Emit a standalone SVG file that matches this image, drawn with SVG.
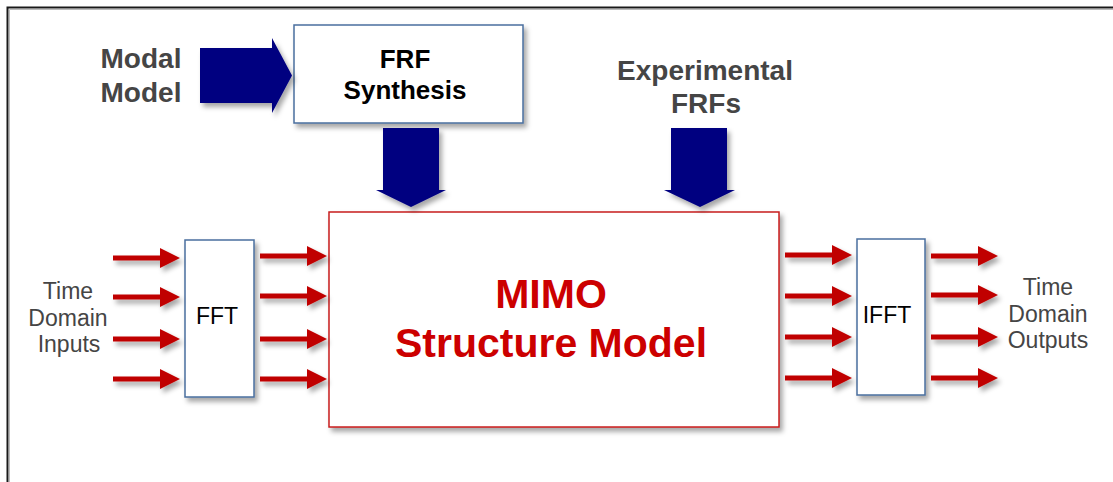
<svg xmlns="http://www.w3.org/2000/svg" xmlns:xlink="http://www.w3.org/1999/xlink" width="1113" height="482" viewBox="0 0 1113 482">
  <style>
    .lbl { font-family: "Liberation Sans", Arial, sans-serif; fill: #454545; text-anchor: middle; }
    .big { font-size: 28px; font-weight: bold; }
    .td { font-size: 23px; }
    .box { fill: #ffffff; stroke: #4a6f9e; stroke-width: 1.5; }
    .mimo { fill: #ffffff; stroke: #c81e1e; stroke-width: 1.5; }
    .btxt { font-family: "Liberation Sans", Arial, sans-serif; fill: #000000; text-anchor: middle; }
    .mtxt { font-family: "Liberation Sans", Arial, sans-serif; fill: #cc0000; text-anchor: middle; font-weight: bold; font-size: 41px; }
    .red { fill: #c00000; }
    .navy { fill: #000080; }
  </style>
  <defs>
    <filter id="sh" x="-20%" y="-20%" width="150%" height="150%">
      <feDropShadow dx="3" dy="4" stdDeviation="2.5" flood-color="#000000" flood-opacity="0.35"/>
    </filter>
    <path id="ra" d="M0,-2.5 H47 V-10 L67,0 L47,10 V2.5 H0 Z"/>
  </defs>

  <rect x="0" y="0" width="1113" height="482" fill="#ffffff"/>
  <!-- frame -->
  <path d="M7.5,482 V7.5 H1113" fill="none" stroke="#1a1a1a" stroke-width="2"/>
  <path d="M9.5,482 V9.5 H1113" fill="none" stroke="#bbbbbb" stroke-width="1"/>

  <g id="modal-model">
    <text class="lbl big" x="141" y="68">Modal</text>
    <text class="lbl big" x="141" y="102">Model</text>
  </g>

  <g id="experimental-frfs">
    <text class="lbl big" x="705" y="80">Experimental</text>
    <text class="lbl big" x="706" y="113">FRFs</text>
  </g>

  <g id="frf-synthesis">
    <rect class="box" x="294" y="25" width="229" height="98" filter="url(#sh)"/>
    <text class="btxt" x="405" y="68" font-size="26" font-weight="bold">FRF</text>
    <text class="btxt" x="405" y="99" font-size="26" font-weight="bold">Synthesis</text>
  </g>

  <g id="mimo">
    <rect class="mimo" x="329" y="212" width="450" height="215" filter="url(#sh)"/>
    <text class="mtxt" x="551" y="308">MIMO</text>
    <text class="mtxt" x="551" y="357">Structure Model</text>
  </g>

  <g id="fft">
    <rect class="box" x="185" y="240" width="69" height="157" filter="url(#sh)"/>
    <text class="btxt" x="217" y="324" font-size="23">FFT</text>
  </g>

  <g id="ifft">
    <rect class="box" x="857" y="239" width="68" height="156" filter="url(#sh)"/>
    <text class="btxt" x="887" y="323" font-size="23">IFFT</text>
  </g>

  <g id="time-domain-inputs">
    <text class="lbl td" x="68" y="299">Time</text>
    <text class="lbl td" x="68" y="326">Domain</text>
    <text class="lbl td" x="69" y="352">Inputs</text>
  </g>

  <g id="time-domain-outputs">
    <text class="lbl td" x="1048" y="295">Time</text>
    <text class="lbl td" x="1048" y="322">Domain</text>
    <text class="lbl td" x="1048" y="348">Outputs</text>
  </g>

  <g id="connectors">
    <g class="navy" filter="url(#sh)">
      <path d="M200,48 H272 V38 L292,75.5 L272,113 V103 H200 Z"/>
      <path d="M383,128 H439 V190 H446 L411,207 L376,190 H383 Z"/>
      <path d="M671,128 H727 V190 H735 L700,207 L664,190 H671 Z"/>
    </g>
    <g class="red" filter="url(#sh)">
      <use xlink:href="#ra" x="113" y="258"/>
      <use xlink:href="#ra" x="113" y="297"/>
      <use xlink:href="#ra" x="113" y="339"/>
      <use xlink:href="#ra" x="113" y="379"/>
      <use xlink:href="#ra" x="260" y="256"/>
      <use xlink:href="#ra" x="260" y="296"/>
      <use xlink:href="#ra" x="260" y="339"/>
      <use xlink:href="#ra" x="260" y="379"/>
      <use xlink:href="#ra" x="785" y="255"/>
      <use xlink:href="#ra" x="785" y="296"/>
      <use xlink:href="#ra" x="785" y="337"/>
      <use xlink:href="#ra" x="785" y="378"/>
      <use xlink:href="#ra" x="931" y="256"/>
      <use xlink:href="#ra" x="931" y="295"/>
      <use xlink:href="#ra" x="931" y="337"/>
      <use xlink:href="#ra" x="931" y="378"/>
    </g>
  </g>
</svg>
